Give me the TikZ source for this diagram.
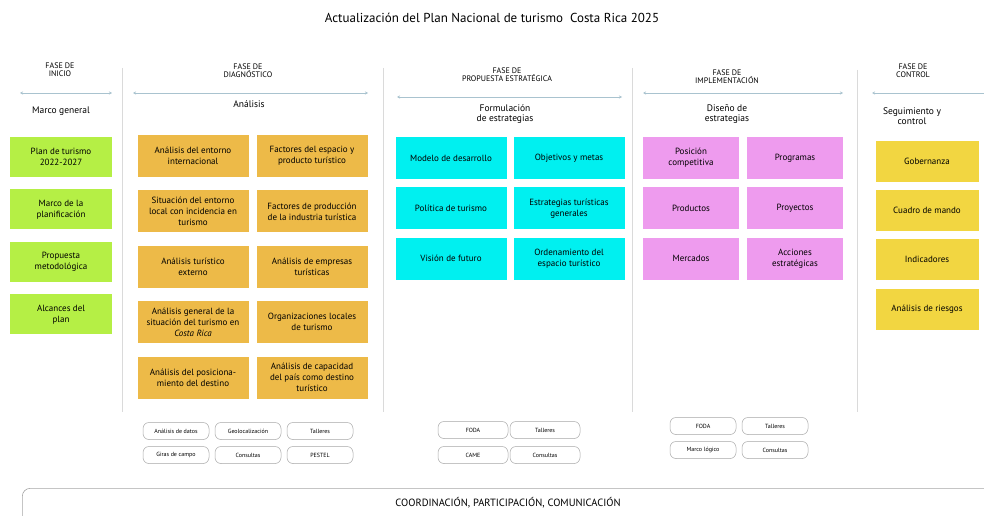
\documentclass[tikz,border=0pt]{standalone}
\usepackage{fontspec}
\setmainfont{PT Sans}
\usetikzlibrary{arrows.meta,positioning}
\definecolor{inicio}{HTML}{B5EF45}
\definecolor{diag}{HTML}{EDBA48}
\definecolor{prop}{HTML}{00F0F0}
\definecolor{impl}{HTML}{EE9BEE}
\definecolor{ctrl}{HTML}{F2D641}
\definecolor{sep}{HTML}{DADADA}
\definecolor{flecha}{HTML}{A9C3CF}

\begin{document}
\begin{tikzpicture}[x=1pt,y=-1pt,
  b/.style={align=center,font=\fontsize{9}{11}\selectfont,inner sep=1pt,
    minimum height=42pt},
  gr/.style={b,fill=inicio,minimum width=102pt,minimum height=40pt},
  dg/.style={b,fill=diag,minimum width=111pt},
  pr/.style={b,fill=prop,minimum width=111pt},
  im/.style={b,fill=impl,minimum width=96pt},
  ct/.style={b,fill=ctrl,minimum width=103pt,minimum height=41pt},
  fase/.style={align=center,font=\fontsize{8}{8}\selectfont,inner sep=0pt},
  sub/.style={align=center,font=\fontsize{9.5}{10.5}\selectfont,inner sep=0pt},
  pill/.style={draw=gray!70,line width=0.5pt,rounded corners=6pt,
    minimum width=66pt,minimum height=17pt,inner sep=0pt,
    font=\fontsize{6}{6}\selectfont},
  a/.style={{Stealth[length=3pt,width=3pt]}-{Stealth[length=3pt,width=3pt]},
    flecha,line width=0.8pt},
  s/.style={sep,line width=0.6pt}
]
\useasboundingbox (0,0) rectangle (984,516);

\node[font=\fontsize{13}{15}\selectfont] (titulo) at (492,18)
  {Actualización del Plan Nacional de turismo \ Costa Rica 2025};

% separadores
\coordinate (s1a) at (122,68);  \coordinate (s1b) at (122,412);
\coordinate (s2a) at (383,68);  \coordinate (s2b) at (383,412);
\coordinate (s3a) at (632,68);  \coordinate (s3b) at (632,412);
\coordinate (s4a) at (857,70);  \coordinate (s4b) at (857,412);
\draw[s] (s1a) -- (s1b);
\draw[s] (s2a) -- (s2b);
\draw[s] (s3a) -- (s3b);
\draw[s] (s4a) -- (s4b);

% cabeceras
\node[fase] (hini) at (60,70) {FASE DE\\INICIO};
\node[fase] (hdia) at (248,71) {FASE DE\\DIAGNÓSTICO};
\node[fase] (hpro) at (507,75) {FASE DE\\PROPUESTA ESTRATÉGICA};
\node[fase] (himp) at (727,77) {FASE DE\\IMPLEMENTACIÓN};
\node[fase] (hctl) at (913,71) {FASE DE\\CONTROL};

\coordinate (f1a) at (20,93);  \coordinate (f1b) at (112,93);
\coordinate (f2a) at (133,93); \coordinate (f2b) at (368,93);
\coordinate (f3a) at (397,97); \coordinate (f3b) at (622,97);
\coordinate (f4a) at (643,93); \coordinate (f4b) at (843,93);
\coordinate (f5a) at (872,93); \coordinate (f5b) at (990,93);
\draw[a] (f1a) -- (f1b);
\draw[a] (f2a) -- (f2b);
\draw[a] (f3a) -- (f3b);
\draw[a] (f4a) -- (f4b);
\draw[{Stealth[length=3pt,width=3pt]}-,flecha,line width=0.8pt] (f5a) -- (f5b);

\node[sub] (sini) at (61,111) {Marco general};
\node[sub] (sdia) at (249,104) {Análisis};
\node[sub] (spro) at (505,114) {Formulación\\de estrategias};
\node[sub] (simp) at (727,114) {Diseño de\\estrategias};
\node[sub] (sctl) at (912,116) {Seguimiento y\\control};

% fase de inicio
\begin{scope}[node distance=12pt]
\node[gr] (plan) at (61,157) {Plan de turismo\\2022-2027};
\node[gr,below=of plan] (marco) {Marco de la\\planificación};
\node[gr,below=of marco] (metodo) {Propuesta\\metodológica};
\node[gr,below=of metodo] (alcance) {Alcances del\\plan};
\end{scope}

% fase de diagnostico
\begin{scope}[node distance=13pt]
\node[dg] (intl) at (193,156) {Análisis del entorno\\internacional};
\node[dg,below=of intl] (local) {Situación del entorno\\local con incidencia en\\turismo};
\node[dg,below=of local] (externo) {Análisis turístico\\externo};
\node[dg,below=of externo] (general) {Análisis general de la\\situación del turismo en\\\textit{Costa Rica}};
\node[dg,below=of general] (posic) {Análisis del posiciona-\\miento del destino};
\node[dg] (espacio) at (312,156) {Factores del espacio y\\producto turístico};
\node[dg,below=of espacio] (produc) {Factores de producción\\de la industria turística};
\node[dg,below=of produc] (empresas) {Análisis de empresas\\turísticas};
\node[dg,below=of empresas] (orgs) {Organizaciones locales\\de turismo};
\node[dg,below=of orgs] (capac) {Análisis de capacidad\\del país como destino\\turístico};
\end{scope}

% fase de propuesta estrategica
\begin{scope}[node distance=8pt]
\node[pr] (modelo) at (451,158) {Modelo de desarrollo};
\node[pr,below=of modelo] (politica) {Política de turismo};
\node[pr,below=of politica] (vision) {Visión de futuro};
\node[pr] (objet) at (569,158) {Objetivos y metas};
\node[pr,below=of objet] (estrat) {Estrategias turísticas\\generales};
\node[pr,below=of estrat] (orden) {Ordenamiento del\\espacio turístico};
\end{scope}

% fase de implementacion
\begin{scope}[node distance=8pt]
\node[im] (posicion) at (691,158) {Posición\\competitiva};
\node[im,below=of posicion] (productos) {Productos};
\node[im,below=of productos] (mercados) {Mercados};
\node[im] (programas) at (795,158) {Programas};
\node[im,below=of programas] (proyectos) {Proyectos};
\node[im,below=of proyectos] (acciones) {Acciones\\estratégicas};
\end{scope}

% fase de control
\begin{scope}[node distance=8pt]
\node[ct] (gober) at (927,161) {Gobernanza};
\node[ct,below=of gober] (cuadro) {Cuadro de mando};
\node[ct,below=of cuadro] (indic) {Indicadores};
\node[ct,below=of indic] (riesgos) {Análisis de riesgos};
\end{scope}

% herramientas
\node[pill] (datos) at (176,431) {Análisis de datos};
\node[pill] (geo) at (248,431) {Geolocalización};
\node[pill] (tall1) at (320,431) {Talleres};
\node[pill] (giras) at (176,455) {Giras de campo};
\node[pill] (cons1) at (248,455) {Consultas};
\node[pill] (pestel) at (320,455) {PESTEL};

\node[pill,minimum width=70pt] (foda1) at (473,430) {FODA};
\node[pill,minimum width=70pt] (tall2) at (545,430) {Talleres};
\node[pill,minimum width=70pt] (came) at (473,455) {CAME};
\node[pill,minimum width=70pt] (cons2) at (545,455) {Consultas};

\node[pill] (foda2) at (703,426) {FODA};
\node[pill] (tall3) at (775,426) {Talleres};
\node[pill] (logico) at (703,450) {Marco lógico};
\node[pill] (cons3) at (775,450) {Consultas};

% barra transversal
\node[draw=gray!70,line width=0.6pt,rounded corners=8pt,minimum width=990pt,
  minimum height=40pt,anchor=north west,inner sep=0pt] (coord) at (22,488) {};
\node[font=\fontsize{10.5}{12}\selectfont] (coordtxt) at (508,503)
  {COORDINACIÓN, PARTICIPACIÓN, COMUNICACIÓN};
\end{tikzpicture}
\end{document}
